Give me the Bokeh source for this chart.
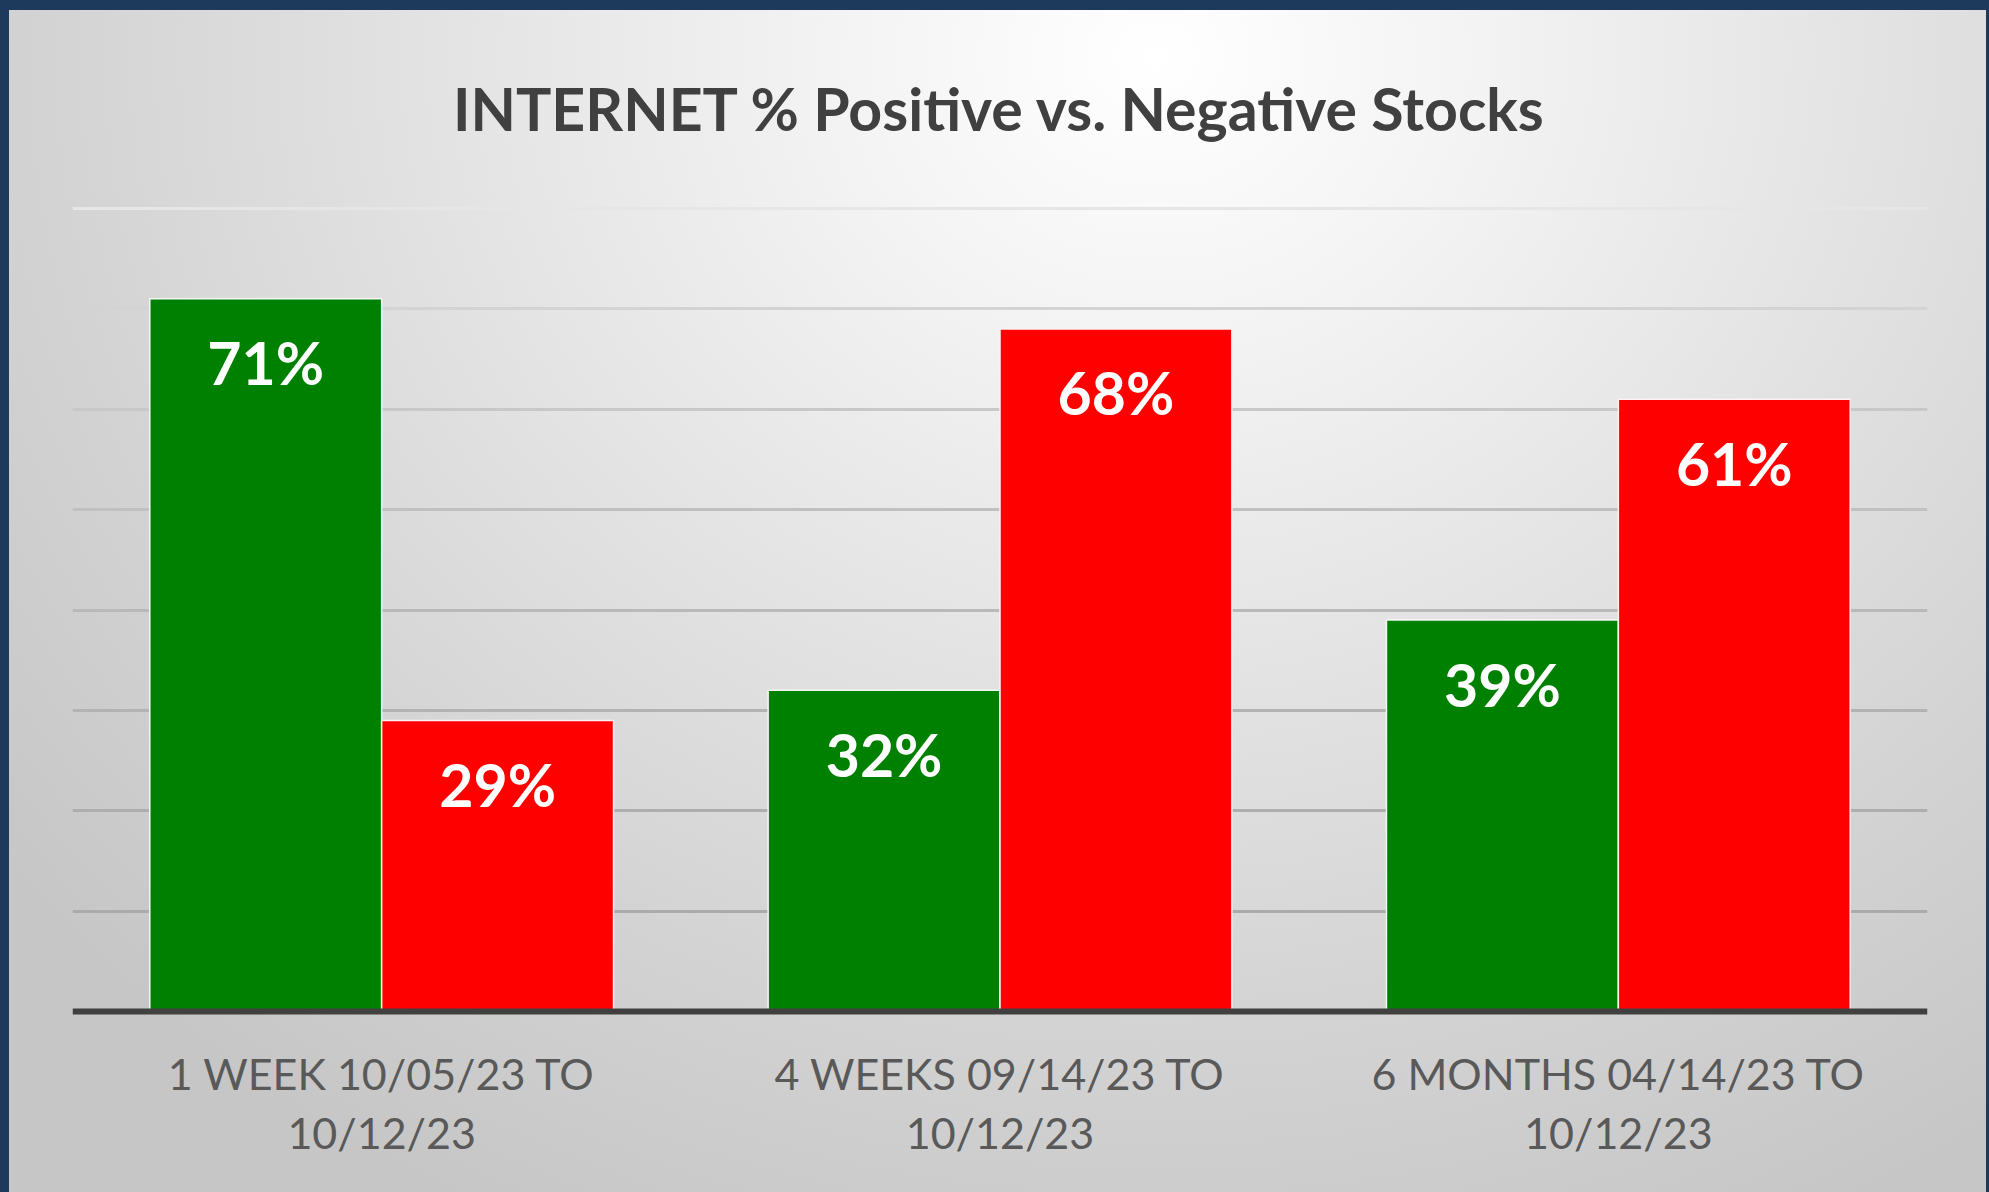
from bokeh.plotting import figure
from bokeh.models import ColumnDataSource, Span
from bokeh.transform import dodge
from bokeh.embed import file_html
from bokeh.resources import INLINE
from bokeh.core.properties import value

# ---- data ----
categories = ["1 WEEK 10/05/23 TO\n10/12/23",
              "4 WEEKS 09/14/23 TO\n10/12/23",
              "6 MONTHS 04/14/23 TO\n10/12/23"]
positive = [71, 32, 39]
negative = [29, 68, 61]
title_text = "INTERNET % Positive vs. Negative Stocks"
grid_ticks = [10, 20, 30, 40, 50, 60, 70, 80]
grid_colors = ["#ababab", "#aeaeae", "#b3b3b3", "#b9b9b9",
               "#c0c0c0", "#c8c8c8", "#d3d3d3", "#e6e6e6"]

src = ColumnDataSource(dict(
    cat=categories,
    pos=positive,
    neg=negative,
    pos_lbl=[f"{v}%" for v in positive],
    neg_lbl=[f"{v}%" for v in negative],
))
grid_src = ColumnDataSource(dict(y=grid_ticks, color=grid_colors))

W, H = 1977, 1182
p = figure(x_range=categories, y_range=(-0.4, 80.4), width=W, height=H,
           output_backend="svg", toolbar_location=None,
           min_border_left=63, min_border_right=59,
           min_border_top=188, min_border_bottom=177,
           styles={"background": "radial-gradient(ellipse 75% 110% at 58% 4%, #ffffff 0%, #f3f3f3 22%, #e2e2e2 50%, #d3d3d3 75%, #c6c6c6 100%)"})
p.background_fill_alpha = 0
p.border_fill_alpha = 0
p.outline_line_color = None

p.title.text = title_text
p.title.align = "center"
p.title.text_font = "Lato"
p.title.text_font_style = "bold"
p.title.text_font_size = "59px"
p.title.text_color = "#404040"
p.title.standoff = 121

# horizontal gridlines
p.xgrid.grid_line_color = None
p.ygrid.grid_line_color = None
p.hspan(y="y", line_color="color", line_width=3, source=grid_src)

bar_w = 0.375
p.vbar(x=dodge("cat", -bar_w / 2, range=p.x_range), top="pos", bottom=0, width=bar_w,
       source=src, fill_color="#008000", line_color="#f4f8f4", line_width=1.5)
p.vbar(x=dodge("cat", bar_w / 2, range=p.x_range), top="neg", bottom=0, width=bar_w,
       source=src, fill_color="#FF0000", line_color="#fbf2f2", line_width=1.5)

lbl_kw = dict(text_color="white", text_font=value("Lato"), text_font_style="bold",
              text_font_size="59px", text_align="center", text_baseline="middle",
              y_offset=64)
p.text(x=dodge("cat", -bar_w / 2, range=p.x_range), y="pos", text="pos_lbl", source=src, **lbl_kw)
p.text(x=dodge("cat", bar_w / 2, range=p.x_range), y="neg", text="neg_lbl", source=src, **lbl_kw)

# axis line at zero
p.add_layout(Span(location=0, dimension="width", line_color="#404040", line_width=6))

p.yaxis.visible = False
ax = p.xaxis[0]
ax.axis_line_color = None
ax.major_tick_line_color = None
ax.minor_tick_line_color = None
ax.major_label_text_font = "Lato"
ax.major_label_text_font_size = "43px"
ax.major_label_text_color = "#595959"
ax.major_label_text_line_height = 1.163
ax.major_label_standoff = 26
ax.major_label_orientation = "horizontal"

html = file_html(p, INLINE)
css = ("<style>html,body{margin:0 !important;background:#1d3a5c !important;}"
       "body{padding:10px 3px 0 9px !important;}</style>")
html = html.replace("</head>", css + "</head>", 1)
open("out.html", "w").write(html)
